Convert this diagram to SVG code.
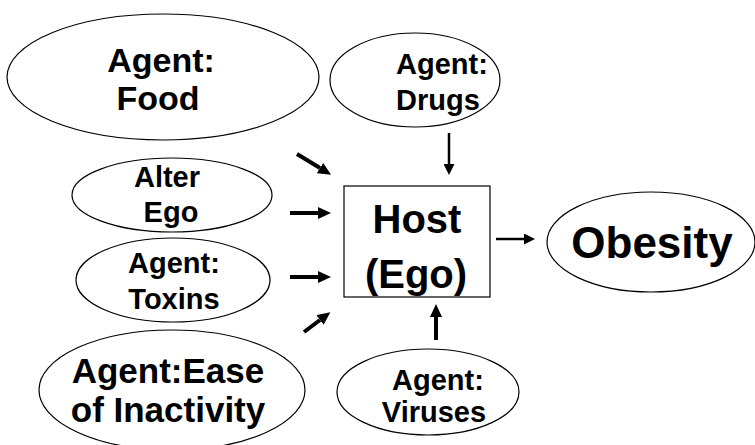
<svg xmlns="http://www.w3.org/2000/svg" width="755" height="445" viewBox="0 0 755 445">
  <style>
    .node { fill: #ffffff; stroke: #000000; stroke-width: 1.2; }
    .lbl { font-family: "Liberation Sans", Arial, sans-serif; font-weight: bold; fill: #000000; text-anchor: middle; }
    .edge { stroke: #000000; stroke-width: 4; fill: none; marker-end: url(#head); }
    .edge.thin { stroke-width: 2.5; marker-end: url(#headSmall); }
  </style>
  <defs>
    <marker id="head" markerUnits="userSpaceOnUse" markerWidth="13" markerHeight="12" refX="0" refY="6" orient="auto">
      <path d="M0,0 L13,6 L0,12 Z" fill="#000000"/>
    </marker>
    <marker id="headSmall" markerUnits="userSpaceOnUse" markerWidth="11" markerHeight="11" refX="0" refY="5.5" orient="auto">
      <path d="M0,0 L11,5.5 L0,11 Z" fill="#000000"/>
    </marker>
  </defs>
  <rect width="755" height="445" fill="#ffffff"/>

  <g id="agent-food">
    <ellipse class="node" cx="163" cy="77" rx="156" ry="63"/>
    <text class="lbl" font-size="34" x="161" y="72">Agent:</text>
    <text class="lbl" font-size="34" x="158" y="110">Food</text>
  </g>

  <g id="agent-drugs">
    <ellipse class="node" cx="415" cy="80" rx="85" ry="47"/>
    <text class="lbl" font-size="29" x="442" y="74">Agent:</text>
    <text class="lbl" font-size="29" x="438" y="110">Drugs</text>
  </g>

  <g id="alter-ego">
    <ellipse class="node" cx="172" cy="195" rx="100" ry="37"/>
    <text class="lbl" font-size="29" x="167" y="187">Alter</text>
    <text class="lbl" font-size="29" x="171" y="222">Ego</text>
  </g>

  <g id="agent-toxins">
    <ellipse class="node" cx="173" cy="280" rx="97" ry="42"/>
    <text class="lbl" font-size="29" x="174" y="273">Agent:</text>
    <text class="lbl" font-size="29" x="174" y="309">Toxins</text>
  </g>

  <g id="agent-inactivity">
    <ellipse class="node" cx="172" cy="390" rx="133" ry="60"/>
    <text class="lbl" font-size="35" x="168" y="383">Agent:Ease</text>
    <text class="lbl" font-size="35" x="168" y="422">of Inactivity</text>
  </g>

  <g id="agent-viruses">
    <ellipse class="node" cx="428" cy="392" rx="91" ry="43"/>
    <text class="lbl" font-size="29" x="438" y="390">Agent:</text>
    <text class="lbl" font-size="29" x="434" y="422">Viruses</text>
  </g>

  <g id="host">
    <rect class="node" x="344" y="186" width="146" height="111"/>
    <text class="lbl" font-size="40" x="417" y="233">Host</text>
    <text class="lbl" font-size="40" x="416" y="288">(Ego)</text>
  </g>

  <g id="obesity">
    <ellipse class="node" cx="651" cy="242" rx="104" ry="50"/>
    <text class="lbl" font-size="44" x="652" y="258">Obesity</text>
  </g>

  <g id="connectors">
    <line class="edge" x1="297" y1="154" x2="320" y2="168"/>
    <line class="edge" x1="290" y1="213" x2="318" y2="213"/>
    <line class="edge" x1="290" y1="277" x2="318" y2="277"/>
    <line class="edge" x1="304" y1="332" x2="320" y2="320"/>
    <line class="edge thin" x1="449" y1="133" x2="449" y2="164"/>
    <line class="edge" x1="436" y1="340" x2="436" y2="317"/>
    <line class="edge thin" x1="496" y1="239" x2="524" y2="239"/>
  </g>
</svg>
